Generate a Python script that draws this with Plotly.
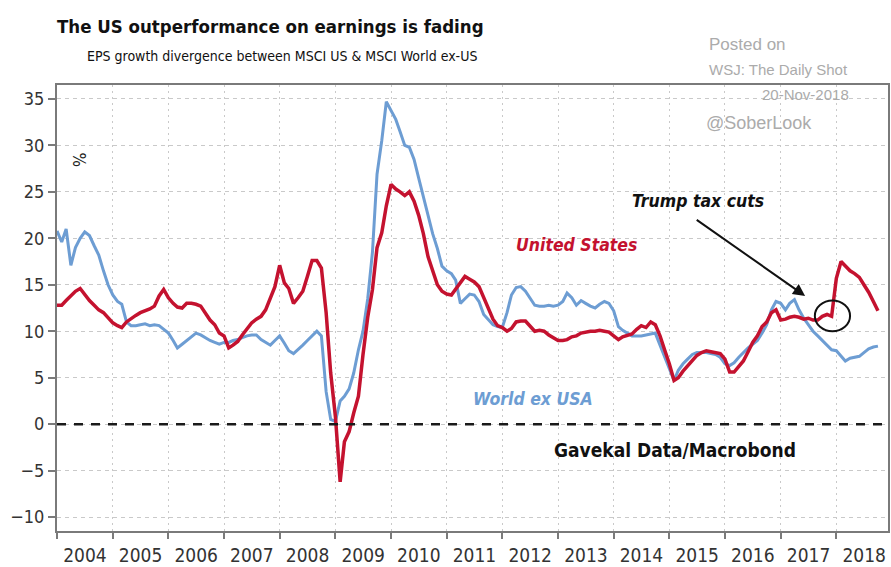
import pandas as pd
import plotly.graph_objects as go

# Monthly EPS growth (%), Jan 2004 onwards
months = pd.date_range("2004-01-01", periods=178, freq="MS")

us_eps = [
    12.8, 12.8, 13.3, 13.8, 14.3, 14.6, 13.9, 13.3, 12.8, 12.3, 12.0, 11.5,
    10.9, 10.6, 10.4, 11.0, 11.4, 11.7, 12.0, 12.2, 12.4, 12.7, 13.8, 14.5,
    13.6, 13.0, 12.6, 12.5, 13.0, 13.0, 12.9, 12.7, 11.9, 11.2, 10.7, 9.8,
    9.5, 8.2, 8.5, 8.9, 9.6, 10.2, 10.9, 11.3, 11.6, 12.3, 13.5, 14.8,
    17.1, 15.2, 14.6, 13.0, 13.6, 14.3, 15.9, 17.6, 17.6, 16.8, 12.0, 5.5,
    0.8, -6.2, -1.9, -0.8, 1.2, 3.0, 7.5, 11.5, 14.5, 19.0, 20.6, 23.5,
    25.8, 25.3, 25.0, 24.6, 25.0, 24.0, 22.5, 20.5, 18.0, 16.5, 15.0, 14.3,
    14.0, 13.9, 14.5, 15.3, 15.9, 15.6, 15.3, 14.8, 13.6, 12.5, 11.3, 10.6,
    10.4, 10.0, 10.3, 11.0, 11.1, 11.1, 10.5, 10.0, 10.1, 10.0, 9.6, 9.3,
    9.0, 9.0, 9.1, 9.4, 9.5, 9.8, 9.9, 10.0, 10.0, 10.1, 10.0, 9.9,
    9.5, 9.1, 9.4, 9.6, 9.7, 10.2, 10.6, 10.4, 11.0, 10.7, 9.5, 8.0,
    6.5, 4.7, 5.0, 5.7, 6.3, 6.9, 7.4, 7.7, 7.9, 7.8, 7.7, 7.6,
    7.0, 5.6, 5.6, 6.2, 6.8, 7.8, 8.8, 9.5, 10.5, 11.0, 12.0, 12.3,
    11.2, 11.3, 11.5, 11.6, 11.5, 11.3, 11.4, 11.2, 11.2, 11.6, 11.8, 11.6,
    15.7, 17.5, 17.0, 16.5, 16.2, 15.8, 15.0, 14.2, 13.2, 12.2,
]

world_ex_us_eps = [
    20.8, 19.6, 21.0, 17.1, 19.0, 20.0, 20.7, 20.3, 19.2, 18.2, 16.5, 15.0,
    13.9, 13.2, 12.9, 11.0, 10.6, 10.6, 10.7, 10.8, 10.6, 10.7, 10.6, 10.2,
    9.8, 9.0, 8.2, 8.6, 9.0, 9.5, 9.8, 9.6, 9.3, 9.0, 8.8, 8.6,
    8.8, 8.8, 9.0, 9.1, 9.3, 9.5, 9.6, 9.6, 9.1, 8.8, 8.5, 9.0,
    9.5, 8.7, 7.9, 7.6, 8.0, 8.5, 9.0, 9.5, 10.0, 9.5, 3.5, 0.5,
    0.3, 2.5, 3.0, 3.8, 5.5, 8.0, 10.0, 13.5, 18.5, 26.9, 30.5, 34.7,
    33.8, 32.8, 31.5, 30.0, 29.8, 28.5, 26.5, 24.5, 22.5, 20.5, 18.9, 17.0,
    16.5, 16.2, 15.5, 13.0, 13.5, 14.0, 13.9, 13.2, 11.8, 11.2, 10.7, 10.5,
    10.4, 12.0, 13.9, 14.7, 14.8, 14.3, 13.6, 12.8, 12.7, 12.7, 12.8, 12.7,
    12.8, 13.2, 14.1, 13.6, 12.8, 13.3, 13.0, 12.7, 12.5, 12.9, 13.2, 13.0,
    12.2, 10.5, 10.1, 9.8, 9.5, 9.5, 9.5, 9.6, 9.7, 9.8, 8.5, 7.2,
    6.0, 4.7, 5.8, 6.5, 7.0, 7.5, 7.7, 7.7, 7.7, 7.6, 7.5, 7.2,
    6.5, 6.3, 6.6, 7.2, 7.7, 8.2, 8.6, 9.0, 9.8, 10.7, 12.3, 13.2,
    13.0, 12.3, 13.0, 13.4, 12.3, 11.4, 10.7, 10.0, 9.5, 9.0, 8.4, 8.0,
    7.9, 7.3, 6.8, 7.1, 7.2, 7.3, 7.7, 8.1, 8.3, 8.4,
]

y_ticks = [-10, -5, 0, 5, 10, 15, 20, 25, 30, 35]

RED = "#c4122f"
BLUE = "#6d9dd3"
NARROW = "DejaVu Sans Condensed, Liberation Sans Narrow, Arial Narrow, sans-serif"
PLAIN = "Liberation Sans, Arial, sans-serif"
GREY_TXT = "#ababab"

fig = go.Figure()
fig.add_trace(go.Scatter(x=months, y=world_ex_us_eps, mode="lines",
                         line=dict(color=BLUE, width=3), name="World ex USA"))
fig.add_trace(go.Scatter(x=months, y=us_eps, mode="lines",
                         line=dict(color=RED, width=3.5), name="United States"))

# dashed zero line
fig.add_shape(type="line", xref="paper", yref="y", x0=0, x1=1, y0=0, y1=0,
              line=dict(color="#1a1a1a", width=2.5, dash="9px,8px"))

# circle around the tax-cut point
fig.add_shape(type="circle", xref="x", yref="y",
              x0="2017-08-13", x1="2018-04-01", y0=10.0, y1=13.3,
              line=dict(color="#111111", width=2))

annotations = [
    dict(text="<b>The US outperformance on earnings is fading</b>", xref="paper", yref="paper",
         x=-0.003, y=1.131, xanchor="left", yanchor="middle", showarrow=False,
         font=dict(family=NARROW, size=18.5, color="#111111")),
    dict(text="EPS growth divergence between MSCI US &amp; MSCI World ex-US", xref="paper", yref="paper",
         x=0.034, y=1.064, xanchor="left", yanchor="middle", showarrow=False,
         font=dict(family=NARROW, size=14, color="#111111")),
    dict(text="Posted on", xref="paper", yref="paper", x=0.782, y=1.091,
         xanchor="left", yanchor="middle", showarrow=False,
         font=dict(family=PLAIN, size=17, color=GREY_TXT)),
    dict(text="WSJ: The Daily Shot", xref="paper", yref="paper", x=0.782, y=1.035,
         xanchor="left", yanchor="middle", showarrow=False,
         font=dict(family=PLAIN, size=15, color=GREY_TXT)),
    dict(text="20-Nov-2018", xref="paper", yref="paper", x=0.846, y=0.979,
         xanchor="left", yanchor="middle", showarrow=False,
         font=dict(family=PLAIN, size=15, color=GREY_TXT)),
    dict(text="@SoberLook", xref="paper", yref="paper", x=0.779, y=0.914,
         xanchor="left", yanchor="middle", showarrow=False,
         font=dict(family=PLAIN, size=18, color=GREY_TXT)),
    dict(text="%", xref="paper", yref="paper", x=0.0253, y=0.833, textangle=90,
         xanchor="center", yanchor="middle", showarrow=False,
         font=dict(family=NARROW, size=17, color="#222222")),
    dict(text="<b><i>United States</i></b>", xref="x", yref="y", x="2012-03-15", y=19.3,
         xanchor="left", yanchor="middle", showarrow=False,
         font=dict(family=NARROW, size=17.5, color=RED)),
    dict(text="<b><i>World ex USA</i></b>", xref="x", yref="y", x="2011-06-10", y=2.7,
         xanchor="left", yanchor="middle", showarrow=False,
         font=dict(family=NARROW, size=17.5, color=BLUE)),
    dict(text="<b><i>Trump tax cuts</i></b>", xref="x", yref="y", x="2014-04-20", y=24.0,
         xanchor="left", yanchor="middle", showarrow=False,
         font=dict(family=NARROW, size=17.5, color="#111111")),
    dict(text="<b>Gavekal Data/Macrobond</b>", xref="x", yref="y", x="2012-11-20", y=-2.8,
         xanchor="left", yanchor="middle", showarrow=False,
         font=dict(family=NARROW, size=19, color="#111111")),
    dict(text="", xref="x", yref="y", x="2017-06-10", y=13.8,
         axref="x", ayref="y", ax="2015-06-20", ay=22.1,
         showarrow=True, arrowhead=2, arrowsize=1.2, arrowwidth=2, arrowcolor="#111111"),
]

fig.update_layout(
    width=891, height=567,
    margin=dict(l=57, r=1, t=85, b=32),
    paper_bgcolor="white", plot_bgcolor="white",
    showlegend=False,
    annotations=annotations,
    font=dict(family=NARROW, color="#333333"),
)

fig.update_xaxes(
    type="date", range=["2004-01-01", "2018-12-06"],
    dtick="M12", tick0="2004-01-01", tickformat="%Y", ticklabelmode="period",
    showgrid=True, gridcolor="#c9c9c9", griddash="2px,4px", gridwidth=1,
    showline=True, linecolor="#7a7a7a", linewidth=2, mirror=True,
    ticks="outside", ticklen=6, tickcolor="#7a7a7a", tickwidth=1.5,
    tickfont=dict(family=NARROW, size=19, color="#333333"),
    zeroline=False,
)
fig.update_yaxes(
    range=[-11.5, 36.5], tickvals=y_ticks,
    showgrid=True, gridcolor="#c9c9c9", griddash="4px,4px", gridwidth=1,
    showline=True, linecolor="#7a7a7a", linewidth=2, mirror=True,
    ticks="outside", ticklen=7, tickcolor="#7a7a7a", tickwidth=1.5,
    tickfont=dict(family=NARROW, size=18, color="#333333"),
    zeroline=False,
)

fig.write_html("out.html")
